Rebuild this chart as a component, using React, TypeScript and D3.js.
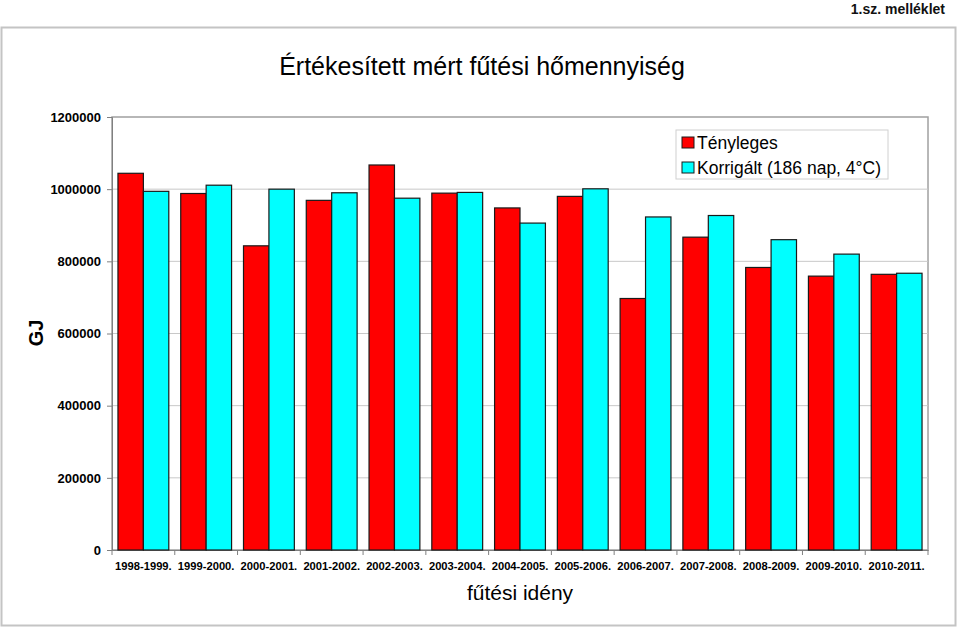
import React, { useEffect, useRef } from "react"
import * as d3 from "d3"

const seasons = [
  "1998-1999.", "1999-2000.", "2000-2001.", "2001-2002.", "2002-2003.",
  "2003-2004.", "2004-2005.", "2005-2006.", "2006-2007.", "2007-2008.",
  "2008-2009.", "2009-2010.", "2010-2011.",
]
const actual = [1044000, 988000, 843000, 969000, 1067000, 989000, 948000, 980000, 697000, 867000, 783000, 759000, 764000]
const corrected = [994000, 1011000, 1000000, 990000, 975000, 991000, 906000, 1001000, 923000, 927000, 860000, 820000, 767000]
const yTicks = [0, 200000, 400000, 600000, 800000, 1000000, 1200000]
const seriesNames = ["Tényleges", "Korrigált (186 nap, 4°C)"]
const colors = ["#ff0000", "#00ffff"]

export default function App() {
  const ref = useRef<SVGSVGElement>(null)

  useEffect(() => {
    const svg = d3.select(ref.current)
    svg.selectAll("*").remove()
    const width = 960
    const height = 629
    const plot = { left: 112, right: 928, top: 117, bottom: 550 }

    svg.attr("width", width).attr("height", height)

    // page header + chart frame
    svg.append("text")
      .attr("x", 945).attr("y", 14)
      .attr("text-anchor", "end")
      .attr("font-family", "Liberation Sans, Arial, sans-serif")
      .attr("font-size", 14)
      .attr("font-weight", "bold")
      .attr("fill", "#111")
      .text("1.sz. melléklet")

    svg.append("rect")
      .attr("x", 1.5).attr("y", 27.5)
      .attr("width", 954).attr("height", 598)
      .attr("fill", "white")
      .attr("stroke", "#c4c4c4")
      .attr("stroke-width", 2)

    svg.append("text")
      .attr("x", 482).attr("y", 75)
      .attr("text-anchor", "middle")
      .attr("font-family", "Liberation Sans, Arial, sans-serif")
      .attr("font-size", 25)
      .text("Értékesített mért fűtési hőmennyiség")

    const x = d3.scaleBand<string>()
      .domain(seasons)
      .range([plot.left, plot.right])
      .paddingInner(0.19)
      .paddingOuter(0.095)
    const x1 = d3.scaleBand<number>().domain([0, 1]).range([0, x.bandwidth()])
    const y = d3.scaleLinear().domain([0, 1200000]).range([plot.bottom, plot.top])

    // plot area
    svg.append("rect")
      .attr("x", plot.left).attr("y", plot.top)
      .attr("width", plot.right - plot.left).attr("height", plot.bottom - plot.top)
      .attr("fill", "none")
      .attr("stroke", "#a0a0a0")
      .attr("stroke-width", 1.5)

    svg.append("g")
      .selectAll("line")
      .data(yTicks.filter(t => t > 0 && t < 1200000))
      .join("line")
      .attr("x1", plot.left).attr("x2", plot.right)
      .attr("y1", d => y(d)).attr("y2", d => y(d))
      .attr("stroke", "#c8c8c8")

    // y axis
    const yAxis = svg.append("g")
      .attr("transform", `translate(${plot.left},0)`)
      .call(d3.axisLeft(y).tickValues(yTicks).tickSize(5).tickPadding(6).tickFormat(d3.format("d")))
    yAxis.select(".domain").attr("stroke", "#808080")
    yAxis.selectAll(".tick line").attr("stroke", "#808080")
    yAxis.selectAll("text")
      .attr("font-family", "Liberation Sans, Arial, sans-serif")
      .attr("font-size", 13)
      .attr("font-weight", "bold")
      .attr("fill", "#000")

    // x axis
    const xAxis = svg.append("g")
      .attr("transform", `translate(0,${plot.bottom})`)
      .call(d3.axisBottom(x).tickSize(0).tickPadding(12))
    xAxis.select(".domain").attr("stroke", "#808080")
    xAxis.selectAll("text")
      .attr("font-family", "Liberation Sans, Arial, sans-serif")
      .attr("font-size", 11.2)
      .attr("font-weight", "bold")
      .attr("fill", "#000")
    const step = x.step()
    svg.append("g")
      .selectAll("line")
      .data(d3.range(seasons.length + 1))
      .join("line")
      .attr("x1", i => plot.left + i * step).attr("x2", i => plot.left + i * step)
      .attr("y1", plot.bottom).attr("y2", plot.bottom + 5)
      .attr("stroke", "#808080")

    // bars
    const rows = seasons.map((s, i) => ({ s, v: [actual[i], corrected[i]] }))
    svg.append("g")
      .selectAll("g")
      .data(rows)
      .join("g")
      .attr("transform", d => `translate(${x(d.s)},0)`)
      .selectAll("rect")
      .data(d => d.v)
      .join("rect")
      .attr("x", (_, j) => x1(j)!)
      .attr("y", d => y(d))
      .attr("width", x1.bandwidth())
      .attr("height", d => plot.bottom - y(d))
      .attr("fill", (_, j) => colors[j])
      .attr("stroke", "#1a1a1a")
      .attr("stroke-width", 1.2)

    // axis titles
    svg.append("text")
      .attr("transform", "translate(43,333) rotate(-90)")
      .attr("text-anchor", "middle")
      .attr("font-family", "Liberation Sans, Arial, sans-serif")
      .attr("font-size", 20)
      .attr("font-weight", "bold")
      .text("GJ")
    svg.append("text")
      .attr("x", 520).attr("y", 600)
      .attr("text-anchor", "middle")
      .attr("font-family", "Liberation Sans, Arial, sans-serif")
      .attr("font-size", 21)
      .text("fűtési idény")

    // legend
    const lg = svg.append("g").attr("transform", "translate(676,130)")
    lg.append("rect")
      .attr("width", 212).attr("height", 49)
      .attr("fill", "white")
      .attr("stroke", "#d0d0d0")
    seriesNames.forEach((n, i) => {
      lg.append("rect")
        .attr("x", 6).attr("y", 7 + i * 25)
        .attr("width", 12).attr("height", 11)
        .attr("fill", colors[i])
        .attr("stroke", "#1a1a1a")
      lg.append("text")
        .attr("x", 21).attr("y", 19 + i * 25)
        .attr("font-family", "Liberation Sans, Arial, sans-serif")
        .attr("font-size", 17.5)
        .text(n)
    })
  }, [])

  return <svg ref={ref} style={{ position: "absolute", left: 0, top: 0, display: "block" }} />
}
